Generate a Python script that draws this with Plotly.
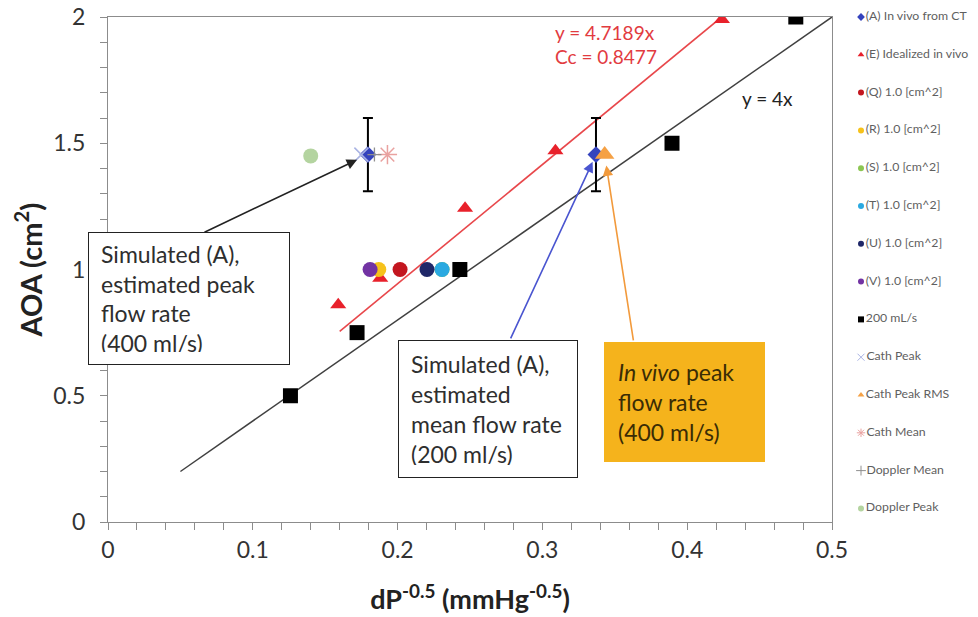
import plotly.graph_objects as go

# ---- data -------------------------------------------------------------
a_x = [0.1795, 0.337]            # (A) In vivo from CT
a_y = [1.455, 1.455]
a_err = [0.145, 0.145]

e_x = [0.159, 0.188, 0.2466, 0.309, 0.424]   # (E) Idealized in vivo
e_y = [0.86, 0.965, 1.243, 1.47, 1.99]

q_x, q_y = [0.2017], [1.0]
r_x, r_y = [0.187], [1.0]
s_x, s_y = [0.2307], [1.0]
t_x, t_y = [0.2307], [1.0]
u_x, u_y = [0.2203], [1.0]
v_x, v_y = [0.181], [1.0]

sq_x = [0.126, 0.172, 0.243, 0.3895, 0.475]   # 200 mL/s
sq_y = [0.5, 0.75, 1.0, 1.5, 2.0]

cath_peak_x, cath_peak_y = [0.175], [1.455]
cath_rms_x, cath_rms_y = [0.343], [1.455]
cath_mean_x, cath_mean_y = [0.193], [1.455]
dop_mean_x, dop_mean_y = [0.184], [1.455]
dop_peak_x, dop_peak_y = [0.14], [1.45]

fit_slope = 4.7189
fit_cc = 0.8477
fit_x = [0.16, 0.4238]
ref_slope = 4.0
ref_x = [0.05, 0.5]

x_ticks = [0, 0.1, 0.2, 0.3, 0.4, 0.5]
y_ticks = [0, 0.5, 1, 1.5, 2]

FONT = "Lato, 'Open Sans', sans-serif"
AX_GREY = "#8c8c8c"
TXT = "#333333"

fig = go.Figure()

# regression and reference lines
fig.add_trace(go.Scatter(x=fit_x, y=[fit_slope * v for v in fit_x], mode="lines",
                         line=dict(color="#e8474b", width=1.6), showlegend=False, hoverinfo="skip"))
fig.add_trace(go.Scatter(x=ref_x, y=[ref_slope * v for v in ref_x], mode="lines",
                         line=dict(color="#404040", width=1.5), showlegend=False, hoverinfo="skip"))

series = [
    ("(A) In vivo from CT", a_x, a_y, dict(symbol="diamond", color="#3443bd", size=13)),
    ("(E) Idealized in vivo", e_x, e_y, dict(symbol="triangle-up", color="#e8212b", size=14)),
    ("(Q) 1.0 [cm^2]", q_x, q_y, dict(symbol="circle", color="#c3161f", size=15)),
    ("(R) 1.0 [cm^2]", r_x, r_y, dict(symbol="circle", color="#f6c21b", size=15)),
    ("(S) 1.0 [cm^2]", s_x, s_y, dict(symbol="circle", color="#8cc652", size=15)),
    ("(T) 1.0 [cm^2]", t_x, t_y, dict(symbol="circle", color="#2aa9e1", size=15)),
    ("(U) 1.0 [cm^2]", u_x, u_y, dict(symbol="circle", color="#1f2768", size=15)),
    ("(V) 1.0 [cm^2]", v_x, v_y, dict(symbol="circle", color="#7233a3", size=15)),
    ("200 mL/s", sq_x, sq_y, dict(symbol="square", color="#000000", size=15)),
    ("Cath Peak", cath_peak_x, cath_peak_y, dict(symbol="x-thin", color="#a9b3e3", size=14,
                                                 line=dict(color="#a9b3e3", width=1.5))),
    ("Cath Peak RMS", cath_rms_x, cath_rms_y, dict(symbol="triangle-up", color="#f5a145", size=17)),
    ("Cath Mean", cath_mean_x, cath_mean_y, dict(symbol="asterisk", color="#e9a2a0", size=16,
                                                 line=dict(color="#e9a2a0", width=1.5))),
    ("Doppler Mean", dop_mean_x, dop_mean_y, dict(symbol="cross-thin", color="#8f8f8f", size=10,
                                                  line=dict(color="#8f8f8f", width=1.3))),
    ("Doppler Peak", dop_peak_x, dop_peak_y, dict(symbol="circle", color="#b4d4a0", size=15)),
]

for name, xs, ys, mk in series:
    kw = {}
    if name.startswith("(A)"):
        kw["error_y"] = dict(type="data", array=a_err, color="#000000", thickness=2, width=5)
    fig.add_trace(go.Scatter(x=xs, y=ys, mode="markers", name=name, marker=mk,
                             showlegend=False, **kw))

# small legend drawn on a helper axis to the right
leg_step = 37.8
for i, (name, _, _, mk) in enumerate(series):
    small = dict(mk)
    small["size"] = 6 if mk["symbol"] not in ("x-thin", "asterisk", "cross-thin") else 7
    if "line" in small:
        small["line"] = dict(color=mk["line"]["color"], width=1)
    fig.add_trace(go.Scatter(x=[6], y=[i * leg_step], xaxis="x2", yaxis="y2",
                             mode="markers+text", marker=small, text=[name],
                             textposition="middle right", cliponaxis=False,
                             textfont=dict(family=FONT, size=12.3, color="#5f5f5f"),
                             showlegend=False, hoverinfo="skip"))

fig.update_layout(
    width=978, height=617, autosize=False,
    margin=dict(l=108, r=0, t=17, b=95),
    paper_bgcolor="white", plot_bgcolor="white",
    font=dict(family=FONT, color=TXT),
    showlegend=False,
    xaxis=dict(domain=[0, 724 / 870], range=[0, 0.5], tickvals=x_ticks,
               ticktext=[f"{v:g}" for v in x_ticks], automargin=False,
               showgrid=False, zeroline=False, showline=True, linecolor=AX_GREY, linewidth=1.2,
               mirror=True, ticks="outside", ticklen=7, tickcolor=AX_GREY, tickwidth=1,
               minor=dict(dtick=0.02, ticks="outside", ticklen=7, tickcolor=AX_GREY, showgrid=False),
               tickfont=dict(size=23, color=TXT),
               title=dict(text="<b>dP<sup>-0.5</sup> (mmHg<sup>-0.5</sup>)</b>",
                          font=dict(size=27, color="#222222", family=FONT), standoff=28)),
    yaxis=dict(domain=[0, 1], range=[0, 2], tickvals=y_ticks,
               ticktext=[f"{v:g}" for v in y_ticks], automargin=False,
               showgrid=False, zeroline=False, showline=True, linecolor=AX_GREY, linewidth=1.2,
               mirror=True, ticks="outside", ticklen=7, tickcolor=AX_GREY, tickwidth=1,
               ticklabelstandoff=10,
               minor=dict(dtick=0.1, ticks="outside", ticklen=7, tickcolor=AX_GREY, showgrid=False),
               tickfont=dict(size=23, color=TXT)),
    xaxis2=dict(domain=[747 / 870, 1], range=[0, 123], visible=False, anchor="y2"),
    yaxis2=dict(domain=[0, 1], range=[505, 0], visible=False, anchor="x2"),
)

# y-axis title
fig.add_annotation(x=-0.092, y=0.5, xref="paper", yref="paper", xanchor="center", yanchor="middle",
                   text="<b>AOA (cm<sup>2</sup>)</b>", textangle=-90, showarrow=False,
                   font=dict(size=29, color="#222222", family=FONT))

# equation labels
eq_font = dict(size=19, color="#e23b3f", family=FONT)
fig.add_annotation(x=0.3073, y=1.937, xref="x", yref="y", xanchor="left", yanchor="middle",
                   text=f"y = {fit_slope}x", showarrow=False, font=eq_font)
fig.add_annotation(x=0.3073, y=1.842, xref="x", yref="y", xanchor="left", yanchor="middle",
                   text=f"Cc = {fit_cc}", showarrow=False, font=eq_font)
fig.add_annotation(x=0.4365, y=1.679, xref="x", yref="y", xanchor="left", yanchor="middle",
                   text="y = 4x", showarrow=False,
                   font=dict(size=19, color="#222222", family=FONT))

# call-out boxes
box_font = dict(size=23, color="#2e2e2e", family=FONT)
fig.add_annotation(x=0, y=1.1485, xref="x", yref="y", xanchor="left", yanchor="top", xshift=-20,
                   text="Simulated (A),<br>estimated peak<br>flow rate<br>(400 ml/s)",
                   showarrow=False, align="left", valign="middle", width=176, height=107,
                   bgcolor="white", bordercolor="#222222", borderwidth=1, borderpad=12,
                   font=box_font)
fig.add_annotation(x=0.2003, y=0.7208, xref="x", yref="y", xanchor="left", yanchor="top",
                   text="Simulated (A),<br>estimated<br>mean flow rate<br>(200 ml/s)",
                   showarrow=False, align="left", valign="middle", width=154, height=112,
                   bgcolor="white", bordercolor="#222222", borderwidth=1, borderpad=12,
                   font=box_font)
fig.add_annotation(x=0.3425, y=0.713, xref="x", yref="y", xanchor="left", yanchor="top",
                   text="<i>In vivo</i> peak<br>flow rate<br>(400 ml/s)",
                   showarrow=False, align="left", valign="middle", width=133, height=92,
                   bgcolor="#f5b31c", borderwidth=0, borderpad=14,
                   font=dict(size=23, color="#3a2c05", family=FONT))

# arrows from the boxes to the simulated / measured points
fig.add_annotation(x=a_x[0], y=a_y[0], xref="x", yref="y", ax=0.0656, ay=1.145,
                   axref="x", ayref="y", text="", showarrow=True, arrowhead=2,
                   arrowsize=1.3, arrowwidth=1.6, arrowcolor="#222222", standoff=12)
fig.add_annotation(x=a_x[1], y=a_y[1], xref="x", yref="y", ax=0.2776, ay=0.721,
                   axref="x", ayref="y", text="", showarrow=True, arrowhead=2,
                   arrowsize=1.3, arrowwidth=1.6, arrowcolor="#4a55d0", standoff=8)
fig.add_annotation(x=cath_rms_x[0], y=cath_rms_y[0], xref="x", yref="y", ax=0.363, ay=0.713,
                   axref="x", ayref="y", text="", showarrow=True, arrowhead=2,
                   arrowsize=1.3, arrowwidth=1.6, arrowcolor="#f29a3c", standoff=11)

fig.write_html("out.html", config={"responsive": False})
